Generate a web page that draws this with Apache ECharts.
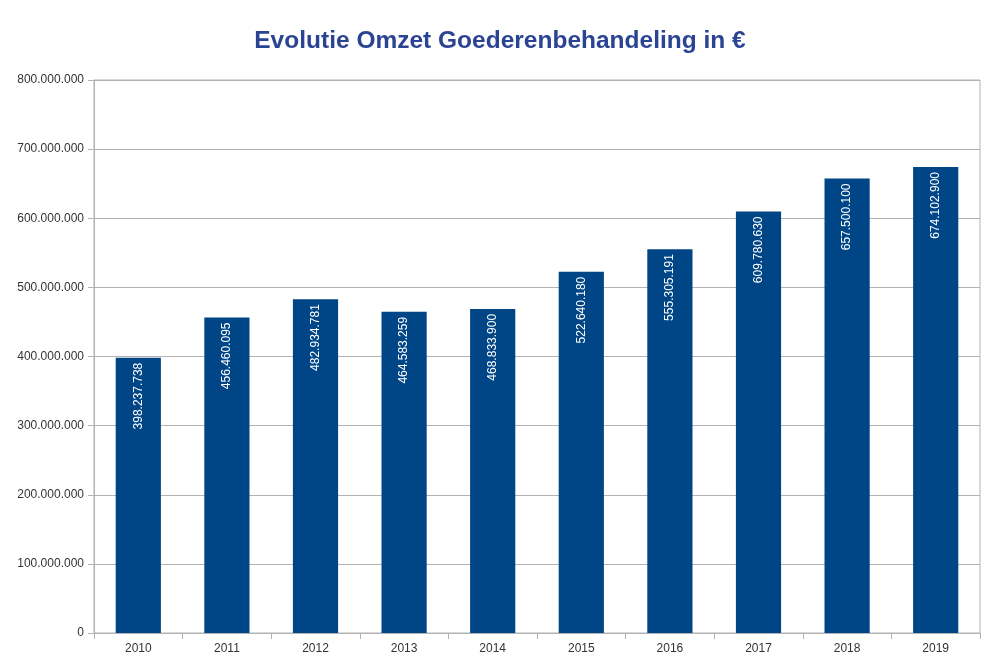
<!DOCTYPE html>
<html>
<head>
<meta charset="utf-8">
<script src="https://cdn.jsdelivr.net/npm/echarts@6/dist/echarts.min.js"></script>
<style>html,body{margin:0;padding:0;background:#fff}#c{width:1000px;height:668px}</style>
</head>
<body>
<div id="c"></div>
<script>
const years = ['2010','2011','2012','2013','2014','2015','2016','2017','2018','2019'];
const omzet = [398237738, 456460095, 482934781, 464583259, 468833900, 522640180, 555305191, 609780630, 657500100, 674102900];
const titleText = 'Evolutie Omzet Goederenbehandeling in €';

function fmt(v){ return String(Math.round(v)).replace(/\B(?=(\d{3})+(?!\d))/g, '.'); }

const chart = echarts.init(document.getElementById('c'), null, {renderer:'canvas'});
chart.setOption({
  animation:false,
  backgroundColor:'#fff',
  title:{
    text:titleText, left:'center', top:24,
    textStyle:{fontFamily:'Liberation Sans', fontWeight:'bold', fontSize:24.5, color:'#2a4392'}
  },
  grid:{left:94, right:20, top:80, bottom:35, show:true, borderColor:'#b3b3b3', borderWidth:1, backgroundColor:'transparent'},
  xAxis:{
    type:'category', data:years,
    axisLine:{lineStyle:{color:'#b3b3b3'}},
    axisTick:{show:true, length:6, lineStyle:{color:'#b3b3b3'}},
    axisLabel:{fontFamily:'Liberation Sans', fontSize:12, color:'#333', margin:10}
  },
  yAxis:{
    type:'value', min:0, max:800000000, interval:100000000,
    axisLine:{show:true, lineStyle:{color:'#b3b3b3'}},
    axisTick:{show:true, length:6, lineStyle:{color:'#b3b3b3'}},
    splitLine:{lineStyle:{color:'#b3b3b3'}},
    axisLabel:{fontFamily:'Liberation Sans', fontSize:12, color:'#333', margin:10, formatter:fmt}
  },
  series:[{
    type:'bar', data:omzet, barWidth:'51%',
    itemStyle:{color:'#004586'},
    label:{
      show:true, position:'insideTop', rotate:90, align:'right', verticalAlign:'middle', distance:5,
      fontFamily:'Liberation Sans', fontSize:12, color:'#fff', formatter:p=>fmt(p.value)
    }
  }]
});
</script>
</body>
</html>
